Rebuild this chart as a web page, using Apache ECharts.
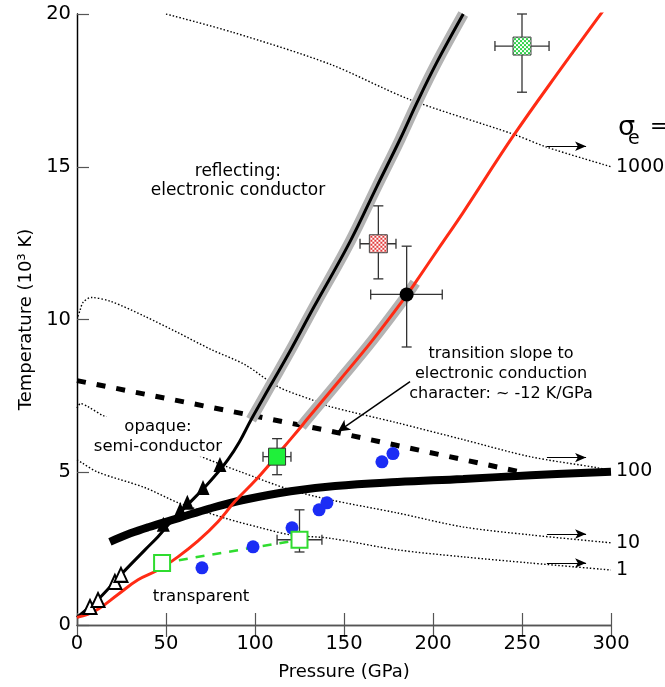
<!DOCTYPE html>
<html><head><meta charset="utf-8">
<script src="https://cdn.jsdelivr.net/npm/echarts@6/dist/echarts.min.js"></script>
<style>html,body{margin:0;padding:0;background:#fff}#c{width:665px;height:687px}</style>
</head><body><div id="c"></div>
<script>
// ---- axis ticks ----
const xTicks = [0, 50, 100, 150, 200, 250, 300];
const yTicks = [0, 5, 10, 15, 20];

// ---- conductivity contours (dotted), [P GPa, T 10^3 K] ----
const sigma1000 = [[50,20],[87.6,19.4],[142,18.36],[187,17.2],[245,16.07],[264,15.64],[300,15.0]];
const sigma100  = [[0.5,10.1],[1.7,10.3],[3.4,10.56],[7.9,10.72],[19.1,10.59],[38.2,10.1],[56.7,9.57],[75.3,9.02],[94.4,8.52],[112.9,7.8],[131.5,7.38],[142.1,7.15],[179.8,6.62],[216.9,6.07],[254.5,5.51],[292,5.15],[300,5.05]];
const sigma10   = [[0,7.1],[2,7.25],[6,7.15],[15.7,6.82],[40,6.2],[69.7,5.51],[91.6,5.02],[119.7,4.43],[142.1,4.1],[179.8,3.67],[216.9,3.21],[254.5,2.95],[300,2.69]];
const sigma1    = [[0,5.41],[3,5.3],[11.8,5.0],[38,4.5],[57,4.0],[83,3.5],[102,3.2],[120,2.95],[142,2.84],[180,2.46],[217,2.23],[254.5,2.03],[300,1.8]];

// ---- boundaries ----
const dashedBoundary = [[0,8.0],[142,6.35],[250,5.0]];
const thickBoundary  = [[18.5,2.72],[30,3.0],[40,3.2],[57,3.5],[75,3.82],[94,4.1],[120,4.38],[145,4.55],[180,4.68],[217,4.78],[255,4.9],[300,5.02]];
const blackCurve = [[0,0.25],[7.3,0.6],[11.8,0.83],[21.3,1.42],[24.7,1.65],[38.2,2.46],[45.5,2.89],[52.8,3.38],[62.4,3.95],[71.9,4.52],[79.2,5.0],[84.8,5.41],[91.3,6.0],[97.8,6.72],[109,7.87],[120.2,9.02],[133,10.4],[153.4,12.55],[168.5,14.36],[181.5,15.9],[191,17.1],[202,18.4],[217,20.0]];
const redCurve = [[0,0.25],[6,0.35],[12,0.52],[23,1.0],[34.3,1.48],[45.5,1.8],[56.7,2.23],[68,2.75],[79.2,3.38],[88.8,4.05],[100,4.72],[112.4,5.55],[115.9,5.8],[126,6.5],[129,6.72],[147.8,8.03],[166.3,9.34],[185.3,10.8],[190,11.2],[204,12.4],[216.9,13.5],[245,16.0],[273,18.3],[295.5,20.1]];

// ---- data points ----
const openTriangles   = [[7.3,0.59],[11.8,0.82],[21.3,1.41],[24.7,1.64]];
const filledTriangles = [[48.5,3.3],[58,3.77],[62,4.02],[70.8,4.5],[80.3,5.25]];
const blueDots        = [[70.2,1.87],[98.9,2.56],[120.8,3.18],[136,3.77],[140.4,4.0],[171.3,5.34],[177.5,5.61]];
const openSquares     = [[47.8,2.03],[125,2.79]];
const greenSquare     = [[112.4,5.51]];
const redChecker      = [[169.3,12.48]];
const greenChecker    = [[250,18.95]];
const blackDot        = [[185.2,10.82]];
// [P, T, Pmin, Pmax, Tmin, Tmax]
const errorBars = [
  [112.4,5.51,104.5,120.2,4.92,6.10],
  [125,2.79,112.4,137.6,2.39,3.77],
  [169.3,12.48,159,179.2,11.33,13.72],
  [250,18.95,234.8,265.2,17.44,20.0],
  [185.2,10.82,165,205.2,9.1,12.4]
];

const FONT = 'DejaVu Sans';
const TXT = '#000';
function checker(c1, symSize){
  const cv = document.createElement('canvas'); cv.width = 4; cv.height = 4;
  const g = cv.getContext('2d');
  g.fillStyle = '#fff'; g.fillRect(0,0,4,4);
  g.fillStyle = c1; g.fillRect(0,0,2,2); g.fillRect(2,2,2,2);
  const s = 2 / symSize;
  return {image: cv, repeat: 'repeat', scaleX: s, scaleY: s};
}
function dotted(data, label, arrowT){
  return {type:'line', data, z:1, smooth:0.3, symbol:'none', silent:true, animation:false,
    lineStyle:{color:'#000', width:1.4, type:[1.5,2]},
    endLabel:{show:true, formatter:label, distance:5, color:TXT, fontSize:19, fontFamily:FONT},
    markLine:{silent:true, animation:false, symbol:['none','arrow'], symbolSize:[7,11],
      label:{show:false}, lineStyle:{color:'#000', width:1.2, type:'solid'},
      data:[[{coord:[264,arrowT]},{coord:[286,arrowT]}]]}
  };
}
function curve(data, color, width, extra){
  return Object.assign({type:'line', data, smooth:0.4, symbol:'none', silent:true, animation:false,
    lineStyle:{color, width, cap:'butt'}}, extra||{});
}
function scatter(data, symbol, size, itemStyle){
  return {type:'scatter', data, symbol, symbolSize:size, silent:true, animation:false,
    itemStyle:Object.assign({opacity:1}, itemStyle), z:5};
}
const axisCol = '#555';

const chart = echarts.init(document.getElementById('c'));
chart.setOption({
  backgroundColor:'#fff',
  animation:false,
  textStyle:{fontFamily:FONT},
  grid:{left:77, right:54, top:14, bottom:62, containLabel:false},
  xAxis:[
    {type:'value', min:xTicks[0], max:xTicks[xTicks.length-1], interval:xTicks[1]-xTicks[0], position:'bottom',
     axisLine:{show:true, lineStyle:{color:axisCol, width:1.3}},
     axisTick:{show:true, inside:true, length:12, lineStyle:{color:axisCol, width:1.2}},
     axisLabel:{color:TXT, fontSize:19.5, margin:9, fontFamily:FONT}, splitLine:{show:false},
     name:'Pressure (GPa)', nameLocation:'middle', nameGap:38,
     nameTextStyle:{color:TXT, fontSize:18, fontFamily:FONT}},
    {type:'value', min:xTicks[0], max:xTicks[xTicks.length-1], interval:xTicks[1]-xTicks[0], position:'top',
     axisLine:{show:true, lineStyle:{color:axisCol, width:1.3}},
     axisTick:{show:true, inside:true, length:12, lineStyle:{color:axisCol, width:1.2}},
     axisLabel:{show:false}, splitLine:{show:false}}
  ],
  yAxis:[
    {type:'value', min:yTicks[0], max:yTicks[yTicks.length-1], interval:yTicks[1]-yTicks[0], position:'left',
     axisLine:{show:true, lineStyle:{color:axisCol, width:1.3}},
     axisTick:{show:true, inside:true, length:12, lineStyle:{color:axisCol, width:1.2}},
     axisLabel:{color:TXT, fontSize:19.5, margin:6, fontFamily:FONT}, splitLine:{show:false},
     name:'Temperature (10³ K)', nameLocation:'middle', nameGap:40,
     nameTextStyle:{color:TXT, fontSize:18, fontFamily:FONT}},
    {type:'value', min:yTicks[0], max:yTicks[yTicks.length-1], position:'right',
     axisLine:{show:true, lineStyle:{color:'#000', width:1.3}},
     axisTick:{show:false}, axisLabel:{show:false}, splitLine:{show:false}}
  ],
  graphic:[
    {type:'text', left:618, top:114, style:{text:'σ', fontSize:27, fontFamily:FONT, fill:TXT}},
    {type:'text', left:628, top:130, style:{text:'e', fontSize:19, fontFamily:FONT, fill:TXT}},
    {type:'text', left:650, top:117, style:{text:'=', fontSize:21, fontFamily:FONT, fill:TXT}}
  ],
  series:[
    dotted(sigma1000, '1000', 15.67),
    dotted(sigma100, '100', 5.48),
    dotted(sigma10, '10', 2.98),
    dotted(sigma1, '1', 2.03),
    {type:'scatter', z:1, silent:true, animation:false, symbolSize:0, itemStyle:{color:'rgba(0,0,0,0)', opacity:1},
     label:{show:true, position:'inside', formatter:'{b}', color:TXT, fontSize:16, lineHeight:19, fontFamily:FONT, align:'center'},
     data:[
       {value:[90.4,14.52], name:'reflecting:\nelectronic conductor', label:{fontSize:17}},
       {value:[45.5,6.16], name:'opaque:\nsemi-conductor', label:{fontSize:16.5, lineHeight:20, backgroundColor:'#fff', padding:[0,2,0,2]}},
       {value:[69.7,0.92], name:'transparent', label:{fontSize:16.5}},
       {value:[238.2,8.23], name:'transition slope to\nelectronic conduction\ncharacter: ~ -12 K/GPa', label:{lineHeight:20}}
     ]},
    curve(dashedBoundary, '#000', 5, {smooth:false, lineStyle:{color:'#000', width:5, type:[9,11], cap:'butt'},
      markLine:{silent:true, animation:false, symbol:['none','arrow'], symbolSize:[9,12], label:{show:false},
        lineStyle:{color:'#000', width:1.5, type:'solid'},
        data:[[{coord:[187.1,7.97]},{coord:[146.6,6.33]}]]}}),
    curve(thickBoundary, '#000', 8),
    curve(blackCurve.filter(d => d[0] >= 97.8), '#b3b3b3', 11),
    curve(redCurve.filter(d => d[0] >= 126 && d[0] <= 190), '#b3b3b3', 11),
    curve(blackCurve, '#000', 3),
    curve(redCurve, '#ff2b14', 3),
    curve(openSquares, '#2fdc2f', 2.5, {smooth:false, lineStyle:{color:'#2fdc2f', width:2.5, type:[9,8]}}),
    {type:'custom', silent:true, animation:false, z:4, data:errorBars, encode:{x:0, y:1},
     renderItem:function(params, api){
       const x = api.value(0), y = api.value(1);
       const l = api.coord([api.value(2), y]), r = api.coord([api.value(3), y]);
       const t = api.coord([x, api.value(5)]), b = api.coord([x, api.value(4)]);
       const cap = 5, st = {stroke:'#333', lineWidth:1.3};
       const L = (x1,y1,x2,y2) => ({type:'line', shape:{x1,y1,x2,y2}, style:st});
       return {type:'group', children:[
         L(l[0],l[1],r[0],r[1]), L(t[0],t[1],b[0],b[1]),
         L(l[0],l[1]-cap,l[0],l[1]+cap), L(r[0],r[1]-cap,r[0],r[1]+cap),
         L(t[0]-cap,t[1],t[0]+cap,t[1]), L(b[0]-cap,b[1],b[0]+cap,b[1])
       ]};
     }},
    scatter(openTriangles, 'triangle', [13,14], {color:'#fff', borderColor:'#000', borderWidth:2}),
    scatter(filledTriangles, 'triangle', [13,15], {color:'#000'}),
    scatter(blueDots, 'circle', 13, {color:'#1b2cf5'}),
    scatter(openSquares, 'rect', 16, {color:'#fff', borderColor:'#2fdc2f', borderWidth:2}),
    scatter(greenSquare, 'rect', 17, {color:'#1ff03a', borderColor:'#333', borderWidth:1}),
    scatter(redChecker, 'rect', 18, {color:checker('#e23a3a', 18), borderColor:'#444', borderWidth:1}),
    scatter(greenChecker, 'rect', 18, {color:checker('#2fd24a', 18), borderColor:'#444', borderWidth:1}),
    scatter(blackDot, 'circle', 14, {color:'#000'})
  ]
});
</script>
</body></html>
